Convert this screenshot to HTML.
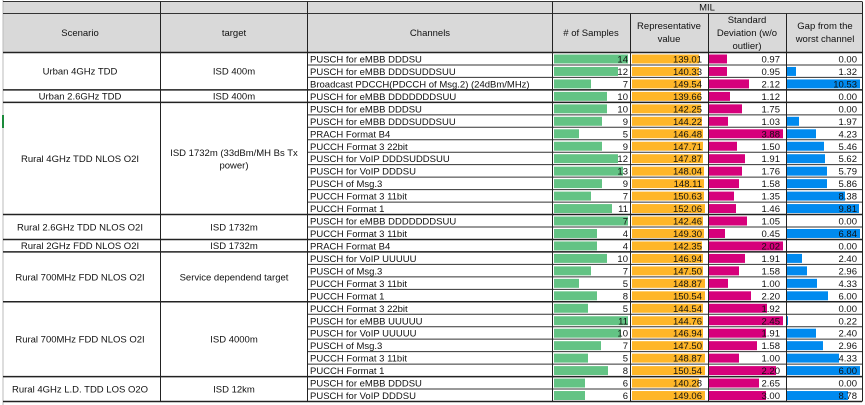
<!DOCTYPE html>
<html><head><meta charset="utf-8"><style>
html,body{margin:0;padding:0;background:#fff;}
svg{display:block;font-family:"Liberation Sans","Noto Sans CJK JP",sans-serif;}
text{font-size:9.5px;fill:#111;}
</style></head><body>
<svg width="865" height="405" viewBox="0 0 865 405" xmlns="http://www.w3.org/2000/svg">
<!-- header bg -->
<rect x="3" y="1" width="859" height="51" fill="#d9d9d9"/>
<line x1="3" y1="0" x2="3" y2="405" stroke="#bbb" stroke-width="1"/>
<rect x="2" y="115" width="2" height="13" fill="#1a8a3a"/>
<!-- header lines -->
<line x1="3" y1="1.5" x2="862" y2="1.5" stroke="#333"/>
<line x1="3" y1="13.5" x2="862" y2="13.5" stroke="#333"/>
<line x1="3" y1="52.5" x2="862" y2="52.5" stroke="#222" stroke-width="1.5"/>
<text x="707" y="10.5" text-anchor="middle">MIL</text>
<text x="80" y="36" text-anchor="middle">Scenario</text>
<text x="234" y="36" text-anchor="middle">target</text>
<text x="430" y="36" text-anchor="middle">Channels</text>
<text x="591" y="36" text-anchor="middle"># of Samples</text>
<text x="669" y="29" text-anchor="middle">Representative</text>
<text x="669" y="42" text-anchor="middle">value</text>
<text x="747" y="23" text-anchor="middle">Standard</text>
<text x="747" y="36" text-anchor="middle">Deviation (w/o</text>
<text x="747" y="49" text-anchor="middle">outlier)</text>
<text x="825" y="29" text-anchor="middle">Gap from the</text>
<text x="825" y="42" text-anchor="middle">worst channel</text>

<g id="rows"></g>
<script>
(function(){
var NS="http://www.w3.org/2000/svg",g=document.getElementById("rows");
function el(n,a,t){var e=document.createElementNS(NS,n);for(var k in a)e.setAttribute(k,a[k]);if(t!=null)e.textContent=t;g.appendChild(e);return e;}
var R=[
["PUSCH for eMBB DDDSU","14","139.01","0.97","0.00",628,699,727,0],
["PUSCH for eMBB DDDSUDDSUU","12","140.33","0.95","1.32",618,699,727,796],
["Broadcast PDCCH(PDCCH of Msg.2) (24dBm/MHz)","7","149.54","2.12","10.53",591,701,749,860],
["PUSCH for eMBB DDDDDDDSUU","10","139.66","1.12","0.00",607,701,730,0],
["PUSCH for eMBB DDDSU","10","142.25","1.75","0.00",607,701,742,0],
["PUSCH for eMBB DDDSUDDSUU","9","144.22","1.03","1.97",602,702,728,799],
["PRACH Format B4","5","146.48","3.88","4.23",579,703,783,816],
["PUCCH Format 3 22bit","9","147.71","1.50","5.46",602,703,737,824],
["PUSCH for VoIP DDDSUDDSUU","12","147.87","1.91","5.62",618,703,745,825],
["PUSCH for VoIP DDDSU","13","148.04","1.76","5.79",623,704,742,827],
["PUSCH of Msg.3","9","148.11","1.58","5.86",602,704,739,827],
["PUCCH Format 3 11bit","7","150.63","1.35","8.38",591,704,734,845],
["PUCCH Format 1","11","152.06","1.46","9.81",612,705,736,859],
["PUSCH for eMBB DDDDDDDSUU","7","142.46","1.05","0.00",628,703,747,0],
["PUCCH Format 3 11bit","4","149.30","0.45","6.84",597,704,725,860],
["PRACH Format B4","4","142.35","2.02","0.00",597,702,783,0],
["PUSCH for VoIP UUUUU","10","146.94","1.91","2.40",607,703,745,802],
["PUSCH of Msg.3","7","147.50","1.58","2.96",591,703,739,807],
["PUCCH Format 3 11bit","5","148.87","1.00","4.33",579,705,728,817],
["PUCCH Format 1","8","150.54","2.20","6.00",597,705,751,828],
["PUCCH Format 3 22bit","5","144.54","1.92","0.00",588,703,767,0],
["PUSCH for eMBB UUUUU","11","144.76","2.45","0.22",628,703,783,788],
["PUSCH for VoIP UUUUU","10","146.94","1.91","2.40",621,703,766,816],
["PUSCH of Msg.3","7","147.50","1.58","2.96",601,703,757,823],
["PUCCH Format 3 11bit","5","148.87","1.00","4.33",588,705,739,839],
["PUCCH Format 1","8","150.54","2.20","6.00",608,705,776,860],
["PUSCH for eMBB DDDSU","6","140.28","2.65","0.00",585,699,759,0],
["PUSCH for VoIP DDDSU","6","149.06","3.00","8.78",585,705,766,848]];
var H=(401.5-52.5)/28;
var G=[[0,3,"Urban 4GHz TDD",["ISD 400m"]],[3,1,"Urban 2.6GHz TDD",["ISD 400m"]],[4,9,"Rural 4GHz TDD NLOS O2I",["ISD 1732m (33dBm/MH Bs Tx","power)"]],[13,2,"Rural 2.6GHz TDD NLOS O2I",["ISD 1732m"]],[15,1,"Rural 2GHz FDD NLOS O2I",["ISD 1732m"]],[16,4,"Rural 700MHz FDD NLOS O2I",["Service dependend target"]],[20,6,"Rural 700MHz FDD NLOS O2I",["ISD 4000m"]],[26,2,"Rural 4GHz L.D. TDD LOS O2O",["ISD 12km"]]];
R.forEach(function(r,i){
var y=52.5+i*H;
el("rect",{x:554,y:y+2,width:r[5]-554,height:H-3.5,fill:"#63c384"});
el("rect",{x:632,y:y+2,width:r[6]-632,height:H-3.5,fill:"#ffb628"});
el("rect",{x:709,y:y+2,width:r[7]-709,height:H-3.5,fill:"#d6007b"});
if(r[8])el("rect",{x:786,y:y+2,width:r[8]-786,height:H-3.5,fill:"#008aef"});
el("text",{x:310,y:y+10},r[0]);
el("text",{x:628,y:y+10,"text-anchor":"end"},r[1]);
el("text",{x:702,y:y+10,"text-anchor":"end"},r[2]);
el("text",{x:780,y:y+10,"text-anchor":"end"},r[3]);
el("text",{x:857,y:y+10,"text-anchor":"end"},r[4]);
if(i>0)el("line",{x1:307,y1:y,x2:862,y2:y,stroke:"#333","stroke-width":1});
});
G.forEach(function(gr){
var y0=52.5+gr[0]*H,h=gr[1]*H,cy=y0+h/2;
if(gr[0]>0)el("line",{x1:3,y1:y0,x2:862,y2:y0,stroke:"#222","stroke-width":1.5});
el("text",{x:80,y:cy+3.5,"text-anchor":"middle"},gr[2]);
var t=gr[3];
if(t.length==1)el("text",{x:234,y:cy+3.5,"text-anchor":"middle"},t[0]);
else{el("text",{x:234,y:cy-2.5,"text-anchor":"middle"},t[0]);el("text",{x:234,y:cy+10,"text-anchor":"middle"},t[1]);}
});
el("line",{x1:3,y1:401.5,x2:862,y2:401.5,stroke:"#222","stroke-width":1.5});
[160,307,552,630,708,786,862].forEach(function(x){
el("line",{x1:x+0.5,y1:(x>=630&&x<862?13.5:1.5),x2:x+0.5,y2:401.5,stroke:"#222","stroke-width":1});
});
el("line",{x1:552.5,y1:1.5,x2:552.5,y2:13.5,stroke:"#222"});
})();
</script>
</svg>
</body></html>
